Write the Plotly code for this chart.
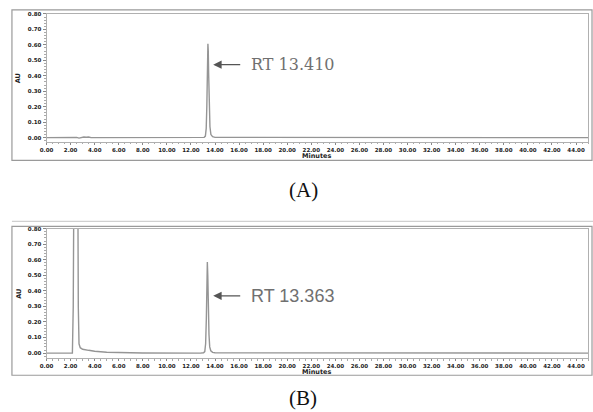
import plotly.graph_objects as go

W, H = 593, 412

# ---- data ----
time_a = [0, 2.1, 2.3, 2.5, 2.7, 2.9, 3.1, 3.3, 3.5, 3.7, 12.9, 13.1, 13.2, 13.27, 13.32,
          13.36, 13.39, 13.41, 13.44, 13.47, 13.52, 13.58, 13.66, 13.8, 14.0, 45]
au_a = [0, 0, 0.004, 0.002, -0.003, 0.001, 0.004, 0.003, 0.004, 0, 0, 0.002, 0.01, 0.06, 0.2,
        0.42, 0.57, 0.607, 0.56, 0.42, 0.2, 0.07, 0.02, 0.006, 0.002, 0]

time_b = [0, 2.15, 2.22, 2.3, 2.45, 2.58, 2.64, 2.7, 2.8, 3.0, 3.5, 4.0, 5.0, 6.0, 8.0, 12.8,
          13.05, 13.15, 13.22, 13.28, 13.32, 13.363, 13.4, 13.44, 13.5, 13.56, 13.65, 13.8, 14.0, 45]
au_b = [0, 0, 0.3, 1.5, 1.6, 1.5, 0.3, 0.06, 0.035, 0.025, 0.018, 0.012, 0.006, 0.003, 0.001, 0,
        0.002, 0.01, 0.06, 0.22, 0.42, 0.585, 0.5, 0.3, 0.12, 0.04, 0.015, 0.005, 0.002, 0]

rt_labels = ["RT 13.410", "RT 13.363"]
panel_labels = ["(A)", "(B)"]
x_ticks = [i * 2 for i in range(23)]
y_ticks = [i / 10 for i in range(9)]

# ---- layout helpers (pixel -> paper) ----
def px(x):
    return x / W

def py(y):
    return 1 - y / H

fig = go.Figure()
line_col = "#959595"
fig.add_trace(go.Scatter(x=time_a, y=au_a, mode="lines", line=dict(color=line_col, width=1.4),
                         xaxis="x", yaxis="y", showlegend=False))
fig.add_trace(go.Scatter(x=time_b, y=au_b, mode="lines", line=dict(color=line_col, width=1.4),
                         xaxis="x2", yaxis="y2", showlegend=False))

tickfont = dict(family="DejaVu Sans", size=5.5, color="#222", weight="bold")

def xaxis(dom_anchor):
    return dict(domain=[px(40), px(588)], range=[0, 45], anchor=dom_anchor,
                tickvals=x_ticks, ticktext=[f"{v:.2f}" for v in x_ticks],
                ticks="outside", ticklen=2, tickcolor="#888", tickfont=tickfont,
                minor=dict(ticks="outside", ticklen=1.5, dtick=0.5, tickcolor="#aaa"),
                showline=True, linecolor="#b0b0b0", linewidth=1, mirror=True,
                showgrid=False, zeroline=False, fixedrange=True)

def yaxis(dom, rng, anchor):
    return dict(domain=dom, range=rng, anchor=anchor,
                tickvals=y_ticks, ticktext=[f"{v:.2f}" for v in y_ticks],
                ticks="outside", ticklen=3, tickcolor="#888", tickfont=tickfont,
                minor=dict(ticks="outside", ticklen=2, dtick=0.02, tickcolor="#aaa"),
                showline=True, linecolor="#b0b0b0", linewidth=1, mirror=True,
                showgrid=False, zeroline=False, fixedrange=True)

fig.update_layout(
    width=W, height=H, margin=dict(l=0, r=0, t=0, b=0),
    paper_bgcolor="white", plot_bgcolor="white",
    xaxis=xaxis("y"),
    yaxis=yaxis([py(140), py(11)], [-0.028, 0.80], "x"),
    xaxis2=xaxis("y2"),
    yaxis2=yaxis([py(357.7), py(227.3)], [-0.032, 0.80], "x2"),
)

shapes = []
# outer panel boxes
for (t, b) in [(7, 158.5), (225, 375)]:
    shapes.append(dict(type="rect", xref="paper", yref="paper", x0=px(5), x1=px(592),
                       y0=py(b), y1=py(t), line=dict(color="#9a9a9a", width=1.2)))
# separator line
shapes.append(dict(type="line", xref="paper", yref="paper", x0=px(5), x1=px(593),
                   y0=py(220), y1=py(220), line=dict(color="#d0d0d0", width=1.2)))
fig.update_layout(shapes=shapes)

ann = []
axis_font = dict(family="DejaVu Sans", size=6.5, color="#222", weight="bold")
for (yc, ym) in [(76, 154.5), (293, 371.5)]:
    ann.append(dict(xref="paper", yref="paper", x=px(12), y=py(yc), text="AU", showarrow=False,
                    textangle=-90, font=axis_font, xanchor="center", yanchor="middle"))
    ann.append(dict(xref="paper", yref="paper", x=px(313), y=py(ym), text="Minutes",
                    showarrow=False, font=axis_font, xanchor="center", yanchor="middle"))

# arrows
for (xa, ya, yv) in [("x", "y", 0.472), ("x2", "y2", 0.368)]:
    ann.append(dict(xref=xa, yref=ya, axref=xa, ayref=ya, x=13.85, y=yv, ax=16.22, ay=yv,
                    text="", showarrow=True, arrowhead=2, arrowsize=1.2, arrowwidth=1.4,
                    arrowcolor="#555"))

ann.append(dict(xref="x", yref="y", x=16.8, y=0.472, xanchor="left", yanchor="middle",
                text=rt_labels[0], showarrow=False,
                font=dict(family="DejaVu Serif", size=16, color="#707070")))
ann.append(dict(xref="x2", yref="y2", x=16.8, y=0.368, xanchor="left", yanchor="middle",
                text=rt_labels[1], showarrow=False,
                font=dict(family="Liberation Sans", size=18, color="#707070")))

ann.append(dict(xref="paper", yref="paper", x=px(300), y=py(188), text=panel_labels[0],
                xanchor="center", yanchor="middle", showarrow=False,
                font=dict(family="Liberation Serif", size=21, color="#111")))
ann.append(dict(xref="paper", yref="paper", x=px(300), y=py(398), text=panel_labels[1],
                xanchor="center", yanchor="middle", showarrow=False,
                font=dict(family="Liberation Serif", size=21, color="#111")))

fig.update_layout(annotations=ann)
fig.write_html("out.html", config=dict(displayModeBar=False),
               post_script="document.body.style.margin='0';document.body.style.overflow='hidden';")
